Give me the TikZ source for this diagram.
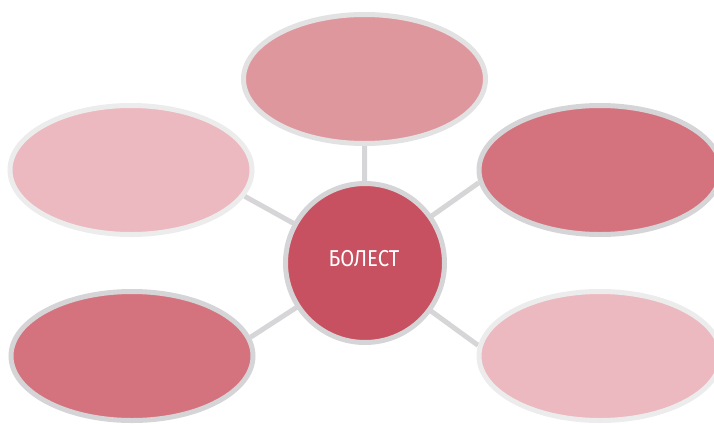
\documentclass[tikz,border=0pt]{standalone}
\usepackage{fontspec}
\newfontfamily\labelfont[FakeStretch=0.88]{Fira Sans}
\usetikzlibrary{backgrounds,shapes.geometric}
\definecolor{core}{HTML}{C85161}
\definecolor{rosea}{HTML}{DF979E}
\definecolor{roseb}{HTML}{EBB9BF}
\definecolor{rosec}{HTML}{D4737E}
\definecolor{rimdark}{HTML}{D5D5D7}
\definecolor{rimmid}{HTML}{E2E2E3}
\definecolor{rimlight}{HTML}{ECECEC}
\definecolor{spoke}{HTML}{D6D6D8}
\begin{document}
\begin{tikzpicture}[x=1pt, y=-1pt,
  every node/.style = {line width=5pt, inner sep=0pt},
  bubble/.style = {shape=ellipse, minimum width=242pt, minimum height=129pt}]
\useasboundingbox (0,0) rectangle (714,423);
\node[circle, minimum size=159pt, fill=core, draw=rimdark,
  text=white, font=\labelfont\fontsize{23}{23}\selectfont] (c) at (365,263) {};
\node[text=white, font=\labelfont\fontsize{23}{23}\selectfont] (c-text) at (364,259) {БОЛЕСТ};
\node[bubble, fill=rosea, draw=rimmid] (t) at (364.5,79) {};
\node[bubble, fill=roseb, draw=rimlight] (ul) at (131,170) {};
\node[bubble, fill=rosec, draw=rimdark] (ur) at (600,170) {};
\node[bubble, fill=rosec, draw=rimdark] (ll) at (132,356) {};
\node[bubble, fill=roseb, draw=rimlight] (lr) at (600,356) {};
\begin{scope}[on background layer]
\draw[spoke, line width=5pt] (c) -- (t.south);
\draw[spoke, line width=5pt] (c.center) -- (ul.-13);
\draw[spoke, line width=5pt] (c.center) -- (ur.186);
\draw[spoke, line width=5pt] (c.center) -- (ll.9);
\draw[spoke, line width=5pt] (c.center) -- (lr.175);
\end{scope}
\end{tikzpicture}
\end{document}
